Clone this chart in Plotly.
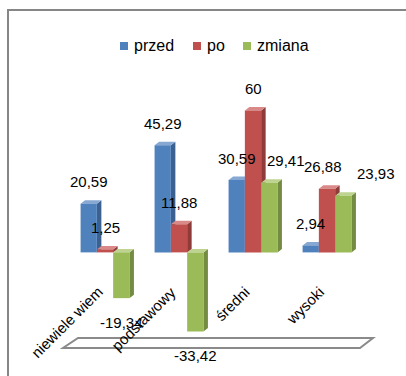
import plotly.graph_objects as go

# Data
categories = ["niewiele wiem", "podstawowy", "średni", "wysoki"]
series_names = ["przed", "po", "zmiana"]
przed = [20.59, 45.29, 30.59, 2.94]
po = [1.25, 11.88, 60, 26.88]
zmiana = [-19.34, -33.42, 29.41, 23.93]
series_values = [przed, po, zmiana]

# Styling
front_colors = ["#4F81BD", "#C0504D", "#9BBB59"]
side_colors = ["#3A6190", "#8E3B39", "#738C41"]
top_colors = ["#86A8D3", "#D98A88", "#BDD38F"]
FONT = "Liberation Sans"

W, H = 406, 376
M = dict(l=68, r=42, t=75, b=29)
Y_RANGE = [-40, 75]
BAR_W = 0.22
OFFSETS = [-0.33, -0.11, 0.11]
DX, DY = 0.061, 1.48          # depth of the pseudo-3D faces (data units)

# per-label nudges (px) for the value labels, [series][category]
LABEL_XSHIFT = [[0, 0, 0, 0], [0, 0, 0, -4], [0, 0, 17, 33]]
LABEL_YSHIFT_POS, LABEL_YSHIFT_NEG = 22, -24

PW = W - M["l"] - M["r"]
PH = H - M["t"] - M["b"]


def px2x(px):
    return (px - M["l"]) / PW


def py2y(py):
    return (H - M["b"] - py) / PH


def fmt(v):
    return f"{v:g}".replace(".", ",")


fig = go.Figure()
shapes = []
annotations = []

for s, (name, vals) in enumerate(zip(series_names, series_values)):
    off = OFFSETS[s]
    fig.add_trace(go.Bar(
        x=list(range(len(categories))), y=vals, name=name,
        width=BAR_W, offset=off,
        marker=dict(color=front_colors[s], line=dict(width=0)),
        showlegend=False, hoverinfo="y",
    ))
    for i, v in enumerate(vals):
        xl = i + off
        xr = xl + BAR_W
        yt, yb = max(v, 0), min(v, 0)
        # side face
        shapes.append(dict(
            type="path", xref="x", yref="y", layer="below",
            path=f"M{xr},{yb} L{xr+DX},{yb+DY} L{xr+DX},{yt+DY} L{xr},{yt} Z",
            fillcolor=side_colors[s], line=dict(width=0),
        ))
        # top face
        shapes.append(dict(
            type="path", xref="x", yref="y", layer="below",
            path=f"M{xl},{yt} L{xl+DX},{yt+DY} L{xr+DX},{yt+DY} L{xr},{yt} Z",
            fillcolor=top_colors[s], line=dict(width=0),
        ))
        annotations.append(dict(
            x=xl + BAR_W / 2, y=v, xref="x", yref="y", text=fmt(v),
            showarrow=False, xanchor="center", yanchor="middle",
            xshift=LABEL_XSHIFT[s][i],
            yshift=LABEL_YSHIFT_POS if v >= 0 else LABEL_YSHIFT_NEG,
            font=dict(family=FONT, size=15, color="#000000"),
        ))

# category labels, rotated
for i, cat in enumerate(categories):
    annotations.append(dict(
        x=i, y=0, xref="x", yref="y", text=cat, showarrow=False,
        textangle=-45, xanchor="right", yanchor="top",
        xshift=3, yshift=-28,
        font=dict(family=FONT, size=15, color="#000000"),
    ))

# floor of the 3D chart
fx = [78, 373, 360, 63]
fy = [338, 338, 348, 348]
shapes.insert(0, dict(
    type="path", xref="paper", yref="paper", layer="below",
    path="M" + " L".join(f"{px2x(a)},{py2y(b)}" for a, b in zip(fx, fy)) + " Z",
    fillcolor="#ffffff", line=dict(color="#8a8a8a", width=2),
))

# outer frame
shapes.append(dict(
    type="rect", xref="paper", yref="paper", layer="above",
    x0=px2x(8), x1=px2x(440), y0=py2y(10), y1=py2y(420),
    line=dict(color="#868686", width=2), fillcolor="rgba(0,0,0,0)",
))

# legend
legend_sq_x = [120, 193, 243]
for s, name in enumerate(series_names):
    x0 = legend_sq_x[s]
    shapes.append(dict(
        type="rect", xref="paper", yref="paper",
        x0=px2x(x0), x1=px2x(x0 + 8), y0=py2y(42), y1=py2y(50),
        fillcolor=front_colors[s], line=dict(width=0),
    ))
    annotations.append(dict(
        x=px2x(x0 + 12), y=py2y(46), xref="paper", yref="paper",
        text=name, showarrow=False, xanchor="left", yanchor="middle",
        font=dict(family=FONT, size=16, color="#000000"),
    ))

fig.update_layout(
    width=W, height=H, margin=M,
    barmode="overlay",
    paper_bgcolor="#ffffff", plot_bgcolor="#ffffff",
    xaxis=dict(range=[-0.5, len(categories) - 0.5], visible=False),
    yaxis=dict(range=Y_RANGE, visible=False),
    shapes=shapes, annotations=annotations,
)

fig.write_html("out.html")
